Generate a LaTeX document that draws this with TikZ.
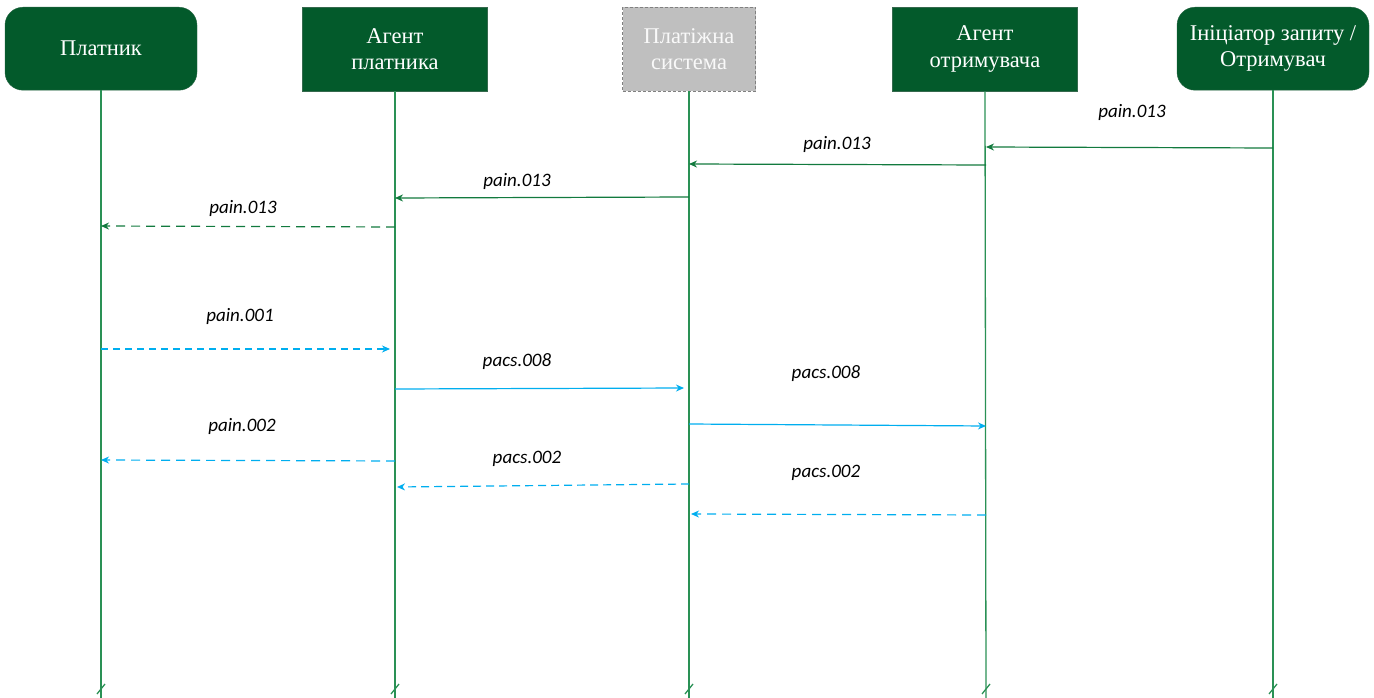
\documentclass[tikz,border=0pt]{standalone}
\usepackage{fontspec}
\setmainfont{Liberation Serif}
\newfontfamily\labelfont{Carlito}
\usetikzlibrary{arrows.meta}
\definecolor{boxgreen}{HTML}{035A2B}
\definecolor{lifegreen}{HTML}{2A9155}
\definecolor{msggreen}{HTML}{127A3E}
\definecolor{msgblue}{HTML}{00AEEF}
\definecolor{sysgray}{HTML}{BFBFBF}
\begin{document}
\begin{tikzpicture}[x=1pt,y=-1pt,
  headfont/.style={font=\fontsize{22.5}{26.5}\selectfont},
  actor/.style={draw=boxgreen!70!gray, fill=boxgreen, text=white, rounded corners=18pt,
    minimum width=192pt, minimum height=83pt, headfont, align=center, anchor=north},
  agent/.style={draw=boxgreen!60!gray, fill=boxgreen, text=white,
    minimum width=185pt, minimum height=84pt, headfont, align=center, anchor=north},
  sysbox/.style={draw=gray, densely dashed, fill=sysgray, text=white!95!gray,
    minimum width=133pt, minimum height=84pt, headfont, align=center, anchor=north},
  lifeline/.style={draw=lifegreen, line width=1.3pt},
  tick/.style={draw=lifegreen, line width=1.3pt},
  msg/.style={line width=1.2pt, -{Stealth[length=8pt,width=7pt]}},
  greenmsg/.style={msg, draw=msggreen, color=msggreen},
  bluemsg/.style={msg, draw=msgblue, color=msgblue},
  dashmsg/.style={dash pattern=on 9pt off 6pt},
  lbl/.style={font=\labelfont\itshape\fontsize{19}{22}\selectfont, text=black}
]
\useasboundingbox (0,0) rectangle (1374,698);

% participants
\node[actor]  (payer)   at (101,7)  {Платник};
\node[agent]  (pagent)  at (395,7)  {Агент\\платника};
\node[sysbox] (system)  at (689,7)  {Платіжна\\система};
\node[agent]  (ragent)  at (985,7)  {Агент\\отримувача};
\node[actor]  (init)    at (1273,7) {Ініціатор запиту /\\Отримувач};

% lifelines with break ticks at the bottom
\foreach \n/\x in {payer/101, pagent/395, system/689, ragent/986, init/1273}{
  \coordinate (\n-end) at (\x,698);
  \draw[lifeline] (\n.south) -- (\n-end);
  \draw[tick] (\x-4,694) -- (\x+4,684);
}

% message anchor points on the lifelines
\coordinate (m1a) at (1273,148); \coordinate (m1b) at (986,147);
\coordinate (m2a) at (986,165);  \coordinate (m2b) at (689,164);
\coordinate (m3a) at (689,197);  \coordinate (m3b) at (395,198);
\coordinate (m4a) at (395,227);  \coordinate (m4b) at (101,226);
\coordinate (m5a) at (101,349);  \coordinate (m5b) at (390,349);
\coordinate (m6a) at (395,389);  \coordinate (m6b) at (684,388);
\coordinate (m7a) at (689,424);  \coordinate (m7b) at (986,426);
\coordinate (m8a) at (395,461);  \coordinate (m8b) at (101,460);
\coordinate (m9a) at (689,484);  \coordinate (m9b) at (397,487);
\coordinate (m10a) at (986,515); \coordinate (m10b) at (691,514);

% pain.013 request chain
\draw[greenmsg] (m1a) -- (m1b);
\draw[greenmsg] (m2a) -- (m2b);
\draw[greenmsg] (m3a) -- (m3b);
\draw[greenmsg, dashmsg] (m4a) -- (m4b);

% payment flow
\draw[bluemsg, line width=1.1pt, dash pattern=on 7pt off 5pt] (m5a) -- (m5b);
\draw[bluemsg] (m6a) -- (m6b);
\draw[bluemsg] (m7a) -- (m7b);
\draw[bluemsg, dashmsg] (m8a) -- (m8b);
\draw[bluemsg, dash pattern=on 8pt off 5pt] (m9a) -- (m9b);
\draw[bluemsg, dashmsg] (m10a) -- (m10b);

% message labels
\node[lbl] (l1)  at (1132,112) {pain.013};
\node[lbl] (l2)  at (837,144)  {pain.013};
\node[lbl] (l3)  at (517,181)  {pain.013};
\node[lbl] (l4)  at (243,208)  {pain.013};
\node[lbl] (l5)  at (240,316)  {pain.001};
\node[lbl] (l6)  at (517,362)  {pacs.008};
\node[lbl] (l7)  at (826,374)  {pacs.008};
\node[lbl] (l8)  at (242,426)  {pain.002};
\node[lbl] (l9)  at (527,459)  {pacs.002};
\node[lbl] (l10) at (826,473)  {pacs.002};
\end{tikzpicture}
\end{document}
